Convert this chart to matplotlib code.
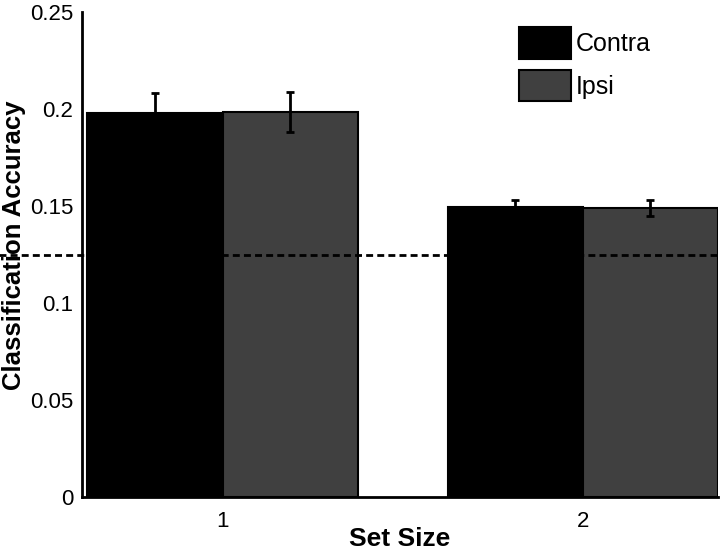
import matplotlib.pyplot as plt
import numpy as np

plt.rcParams['font.family'] = ['Liberation Sans', 'DejaVu Sans']

# datos
set_sizes = [1, 2]
series = ['Contra', 'Ipsi']
contra = [0.198, 0.1495]
ipsi = [0.1985, 0.149]
contra_err = [0.0105, 0.0035]
ipsi_err = [0.0105, 0.004]
chance = 0.125
colores = ['#000000', '#404040']

fig = plt.figure(figsize=(7.2, 5.52), dpi=100)
ax = fig.add_axes([0.114, 0.099, 0.883, 0.879])

x = np.array(set_sizes, dtype=float)
ancho = 0.375

# Barras
b1 = ax.bar(x - ancho / 2, contra, ancho, color=colores[0], edgecolor='black', linewidth=1.5, label=series[0], zorder=2)
b2 = ax.bar(x + ancho / 2, ipsi, ancho, color=colores[1], edgecolor='black', linewidth=1.5, label=series[1], zorder=2)

# Barras de error
ax.errorbar(x - ancho / 2, contra, yerr=contra_err, fmt='none', ecolor='black', elinewidth=2, capsize=3, capthick=2, zorder=3)
ax.errorbar(x + ancho / 2, ipsi, yerr=ipsi_err, fmt='none', ecolor='black', elinewidth=2, capsize=3, capthick=2, zorder=3)

# Linea de azar
ax.axhline(chance, xmin=-0.13, xmax=1, color='black', linestyle=(0, (2.5, 1.5)), linewidth=2, clip_on=False, zorder=4)

ax.set_xlim(0.61, 2.375)
ax.set_ylim(0, 0.25)
ax.set_xticks(set_sizes)
ax.set_xticklabels([str(s) for s in set_sizes])
ax.set_yticks([0, 0.05, 0.1, 0.15, 0.2, 0.25])
ax.set_yticklabels(['0', '0.05', '0.1', '0.15', '0.2', '0.25'])
ax.tick_params(length=0, labelsize=16)
ax.tick_params(axis='y', pad=6.5)
ax.tick_params(axis='x', pad=10)

for lado in ['top', 'right']:
    ax.spines[lado].set_visible(False)
ax.spines['left'].set_linewidth(2)
ax.spines['bottom'].set_linewidth(2)

ax.set_xlabel('Set Size', fontsize=19, fontweight='bold', labelpad=-4)
ax.set_ylabel('Classification Accuracy', fontsize=18.5, fontweight='bold')
ax.yaxis.set_label_coords(-0.088, 0.52)

ax.legend(handles=[b1, b2], loc='upper left', bbox_to_anchor=(0.6865, 0.969), frameon=False, fontsize=18,
          handlelength=2.08, handleheight=1.56, handletextpad=0.2, labelspacing=0.44,
          borderpad=0, borderaxespad=0)

fig.savefig('out.png', dpi=100)
